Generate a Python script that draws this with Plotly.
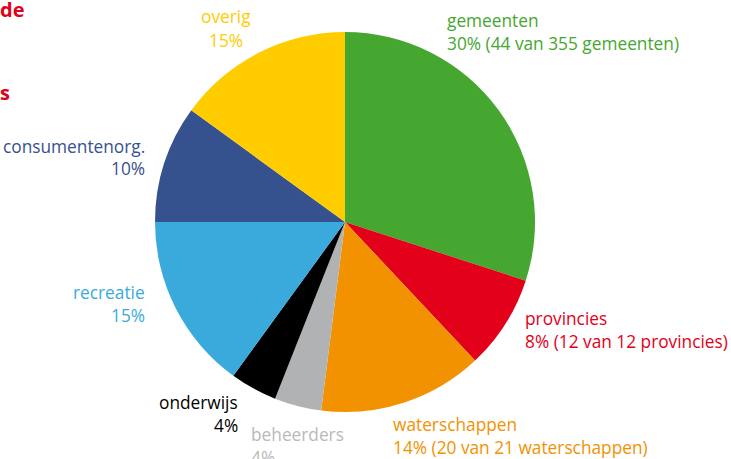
import plotly.graph_objects as go

W, H = 731, 459

labels = ["gemeenten", "provincies", "waterschappen", "beheerders",
          "onderwijs", "recreatie", "consumentenorg.", "overig"]
values = [30, 8, 14, 4, 4, 15, 10, 15]
details = ["(44 van 355 gemeenten)", "(12 van 12 provincies)",
           "(20 van 21 waterschappen)", "", "", "", "", ""]
slice_colors = ["#45A72F", "#E2001A", "#F39200", "#B1B2B4",
                "#000000", "#3AAADC", "#36528E", "#FFCC00"]
label_colors = ["#45A72F", "#E2001A", "#F39200", "#B9B9B9",
                "#000000", "#3AAADC", "#36528E", "#FFCC00"]

FONT = "Open Sans"
FS = 17.3

fig = go.Figure()
fig.add_trace(go.Pie(
    labels=labels, values=values, sort=False, direction="clockwise",
    rotation=0, marker=dict(colors=slice_colors, line=dict(width=0)),
    textinfo="none", hoverinfo="skip", showlegend=False,
    domain=dict(x=[154 / W, 536 / W], y=[1 - 412 / H, 1 - 32 / H]),
))

# label layout: (x px, y px of first line, x-anchor)
label_pos = [
    (445, 20, "left"),
    (523, 318, "left"),
    (391, 424, "left"),
    (249, 434, "left"),
    (240, 402, "right"),
    (147, 292, "right"),
    (147, 146, "right"),
    (226, 17, "center"),
]
LINE = 23

anns = []
for lab, v, det, col, (px, py, xa) in zip(labels, values, details, label_colors, label_pos):
    line2 = f"{v}%" + (f" {det}" if det else "")
    for i, t in enumerate([lab, line2]):
        anns.append(dict(
            text=t, x=px / W, y=1 - (py + i * LINE) / H, xref="paper", yref="paper",
            xanchor=xa, yanchor="middle", showarrow=False,
            font=dict(family=FONT, size=FS, color=col),
        ))

# cut-off title fragments at the top left
for t, py in [("de", 10), ("s", 92)]:
    anns.append(dict(
        text=f"<b>{t}</b>", x=-2 / W, y=1 - py / H, xref="paper", yref="paper",
        xanchor="left", yanchor="middle", showarrow=False,
        font=dict(family=FONT, size=20, color="#E2001A"),
    ))

fig.update_layout(
    width=W, height=H, margin=dict(l=0, r=0, t=0, b=0),
    paper_bgcolor="white", plot_bgcolor="white",
    annotations=anns,
)

fig.write_html("out.html")
